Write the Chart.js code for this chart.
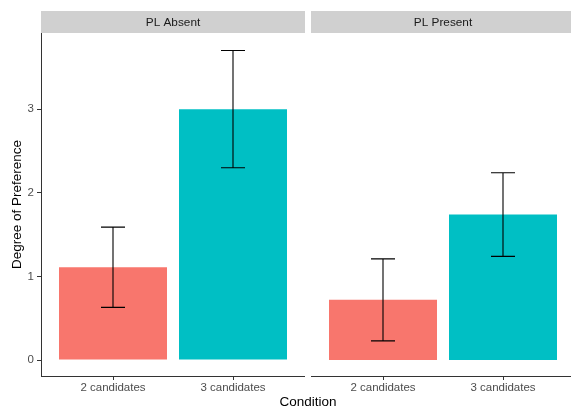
<!DOCTYPE html>
<html>
<head>
<meta charset="utf-8">
<script src="https://cdn.jsdelivr.net/npm/chart.js@4.4.1/dist/chart.umd.min.js"></script>
<style>
  html, body { margin: 0; padding: 0; background: #ffffff; }
  body { width: 571px; height: 407px; overflow: hidden; position: relative; font-family: "Liberation Sans", Arial, sans-serif; }
  .panel { position: absolute; top: 0; }
  #xtitle { position: absolute; left: 158px; width: 300px; top: 394px; text-align: center;
            font-size: 13.5px; line-height: 16px; color: #000000; }
</style>
</head>
<body>
<div class="panel" style="left:0px;width:305px;height:407px"><canvas id="panelA" width="305" height="407"></canvas></div>
<div class="panel" style="left:311px;width:264px;height:407px"><canvas id="panelB" width="264" height="407"></canvas></div>
<div id="xtitle">Condition</div>
<script>
// Facets, conditions and the plotted values
const facets = ['PL Absent', 'PL Present'];
const conditions = ['2 candidates', '3 candidates'];
const conditionPos = [1, 2];
const meanAbsent = [1.11, 3.00];
const errAbsent = [0.48, 0.70];
const meanPresent = [0.72, 1.74];
const errPresent = [0.49, 0.50];
const yTicks = [0, 1, 2, 3];
const barColors = ['#F8766D', '#00BFC4'];

const FONT = '"Liberation Sans", Arial, sans-serif';
const Y_MIN = -0.19, Y_MAX = 3.91;

// Grey strip with the facet name above each panel
const stripPlugin = {
  id: 'strip',
  afterDraw(chart, args, opts) {
    const { ctx, chartArea } = chart;
    const h = 22;
    ctx.save();
    ctx.fillStyle = '#d0d0d0';
    ctx.fillRect(chartArea.left, chartArea.top - h, chartArea.right - chartArea.left, h);
    ctx.fillStyle = '#1a1a1a';
    ctx.font = '11.8px ' + FONT;
    ctx.textAlign = 'center';
    ctx.textBaseline = 'middle';
    const xs = chart.scales.x;
    const cx = xs.getPixelForValue(1.5);
    ctx.fillText(opts.label, cx, chartArea.top - h / 2 + 0.5);
    ctx.restore();
  }
};

// Error bars (mean ± err) with caps 0.2 category units wide
const errorBarPlugin = {
  id: 'errorBars',
  afterDatasetsDraw(chart) {
    const { ctx } = chart;
    const xs = chart.scales.x, ys = chart.scales.y;
    chart.data.datasets.forEach((ds) => {
      ds.data.forEach((pt, i) => {
        const e = ds.errors[i];
        const x = xs.getPixelForValue(pt.x);
        const half = xs.getPixelForValue(pt.x + 0.1) - x;
        const yHi = ys.getPixelForValue(pt.y + e);
        const yLo = ys.getPixelForValue(pt.y - e);
        ctx.save();
        ctx.strokeStyle = '#000000';
        ctx.lineWidth = 1.1;
        ctx.beginPath();
        ctx.moveTo(x, yHi); ctx.lineTo(x, yLo);
        ctx.moveTo(x - half, yHi); ctx.lineTo(x + half, yHi);
        ctx.moveTo(x - half, yLo); ctx.lineTo(x + half, yLo);
        ctx.stroke();
        ctx.restore();
      });
    });
  }
};

function makePanel(canvasId, facet, means, errs, showY) {
  const pts = conditionPos.map((x, i) => ({ x: x, y: means[i] }));
  return new Chart(document.getElementById(canvasId), {
    type: 'bar',
    data: {
      datasets: [{
        data: pts,
        errors: errs,
        backgroundColor: barColors,
        borderWidth: 0,
        barPercentage: 0.9,
        categoryPercentage: 1.0
      }]
    },
    options: {
      responsive: false,
      devicePixelRatio: 1,
      animation: false,
      layout: { padding: { top: 33, right: 0, bottom: 0, left: 0 } },
      plugins: {
        legend: { display: false },
        tooltip: { enabled: false },
        strip: { label: facet }
      },
      scales: {
        x: {
          type: 'linear',
          offset: false,
          min: 0.4,
          max: 2.6,
          afterBuildTicks: (s) => { s.ticks = conditionPos.map(v => ({ value: v })); },
          afterFit: (s) => { s.height = 31; },
          ticks: {
            callback: (v) => conditions[conditionPos.indexOf(v)],
            color: '#4d4d4d',
            font: { family: FONT, size: 11.5 },
            padding: 1,
            maxRotation: 0,
            autoSkip: false
          },
          grid: { offset: false, drawOnChartArea: false, drawTicks: true, tickLength: 4, tickColor: '#333333', tickWidth: 1 },
          border: { display: true, color: '#333333', width: 1 }
        },
        y: {
          display: true,
          min: Y_MIN,
          max: Y_MAX,
          afterBuildTicks: (s) => { s.ticks = showY ? yTicks.map(v => ({ value: v })) : []; },
          afterFit: (s) => { s.width = showY ? 41 : 0; },
          ticks: {
            display: showY,
            color: '#4d4d4d',
            font: { family: FONT, size: 11.5 },
            padding: 3
          },
          grid: { drawOnChartArea: false, drawTicks: showY, tickLength: 4, tickColor: '#333333', tickWidth: 1 },
          border: { display: showY, color: '#333333', width: 1 },
          title: {
            display: showY,
            text: 'Degree of Preference',
            color: '#000000',
            font: { family: FONT, size: 13.5 },
            padding: { top: 9.4, bottom: 0 }
          }
        }
      }
    },
    plugins: [stripPlugin, errorBarPlugin]
  });
}

makePanel('panelA', facets[0], meanAbsent, errAbsent, true);
makePanel('panelB', facets[1], meanPresent, errPresent, false);
</script>
</body>
</html>
